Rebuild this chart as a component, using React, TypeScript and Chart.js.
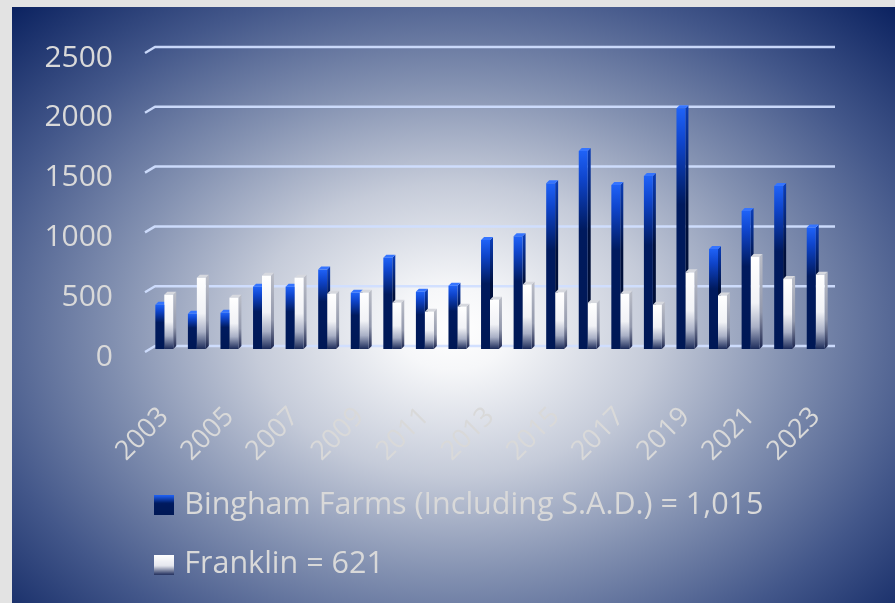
import React, { useEffect, useRef } from 'react';
import { Chart, registerables } from 'chart.js';

Chart.register(...registerables);

// ---- data ----
const years = [
  '2003', '2004', '2005', '2006', '2007', '2008', '2009', '2010', '2011', '2012', '2013',
  '2014', '2015', '2016', '2017', '2018', '2019', '2020', '2021', '2022', '2023',
];
const binghamFarms = [370, 294, 303, 521, 521, 664, 470, 764, 479, 529, 911, 943, 1385, 1656, 1371, 1446, 2012, 837, 1153, 1362, 1015];
const franklin = [454, 596, 429, 613, 596, 462, 470, 387, 311, 353, 412, 538, 473, 384, 462, 370, 641, 448, 770, 585, 621];
const seriesLabels = ['Bingham Farms (Including S.A.D.) = 1,015', 'Franklin = 621'];
const yTicks = [0, 500, 1000, 1500, 2000, 2500];

// ---- styles ----
const TEXT = '#d9d9d9';
const FONT = '"Open Sans", "Noto Sans", sans-serif';
const GRID = 'rgba(208,222,255,0.95)';
const DEPTH = 3;

const blueFront: [number, string][] = [[0, '#1f62f7'], [0.14, '#0f45cc'], [0.4, '#001a5e'], [1, '#001855']];
const whiteFront: [number, string][] = [[0, '#ffffff'], [0.5, '#f1f2f6'], [0.76, '#a9b0c6'], [1, '#1c2b5a']];
const blueSide: [number, string][] = [[0, '#0b3cb4'], [0.4, '#00103c'], [1, '#000e34']];
const whiteSide: [number, string][] = [[0, '#b9bcc6'], [0.6, '#9298ac'], [1, '#18224c']];
const capColors = ['#3574ff', '#d6d8de'];

function frontFill(stops: [number, string][]) {
  return (c: any) => {
    const chart = c.chart;
    if (c.type !== 'data' || !chart.chartArea) return stops[stops.length - 1][1];
    const ys = chart.scales.y;
    const top = ys.getPixelForValue(c.raw);
    const base = ys.getPixelForValue(0);
    const g = chart.ctx.createLinearGradient(0, top, 0, base + 0.01);
    stops.forEach(([o, col]) => g.addColorStop(o, col));
    return g;
  };
}

function makeBox(stops: [number, string][]) {
  const cv = document.createElement('canvas');
  cv.width = 20;
  cv.height = 20;
  const cx = cv.getContext('2d')!;
  const g = cx.createLinearGradient(0, 0, 0, 20);
  stops.forEach(([o, col]) => g.addColorStop(o, col));
  cx.fillStyle = g;
  cx.fillRect(0, 0, 20, 20);
  return cv;
}

const depthPlugin = {
  id: 'depth3d',
  afterLayout(chart: any) {
    // place the legend rows at the left, as in the original
    if (chart.legend) chart.legend.left = 117;
  },
  beforeDatasetsDraw(chart: any) {
    const ctx = chart.ctx;
    const area = chart.chartArea;
    const ys = chart.scales.y;
    // back-wall gridlines with a short slanted floor segment
    ctx.save();
    ctx.strokeStyle = GRID;
    ctx.lineWidth = 2.5;
    ctx.lineJoin = 'round';
    ys.ticks.forEach((t: any) => {
      const py = ys.getPixelForValue(t.value) - 3;
      ctx.beginPath();
      ctx.moveTo(area.left - 3, py + 6);
      ctx.lineTo(area.left + 7, py);
      ctx.lineTo(area.right + 3, py);
      ctx.stroke();
    });
    // side faces and caps of the columns
    const sides = [blueSide, whiteSide];
    chart.data.datasets.forEach((_ds: any, di: number) => {
      const meta = chart.getDatasetMeta(di);
      meta.data.forEach((bar: any) => {
        const { x, y, base, width } = bar.getProps(['x', 'y', 'base', 'width'], true);
        const l = x - width / 2;
        const r = x + width / 2;
        const sg = ctx.createLinearGradient(0, y, 0, base + 0.01);
        sides[di].forEach(([o, col]) => sg.addColorStop(o, col));
        ctx.fillStyle = sg;
        ctx.beginPath();
        ctx.moveTo(r, y);
        ctx.lineTo(r + DEPTH, y - DEPTH);
        ctx.lineTo(r + DEPTH, base - DEPTH);
        ctx.lineTo(r, base);
        ctx.closePath();
        ctx.fill();
        ctx.fillStyle = capColors[di];
        ctx.beginPath();
        ctx.moveTo(l, y);
        ctx.lineTo(l + DEPTH, y - DEPTH);
        ctx.lineTo(r + DEPTH, y - DEPTH);
        ctx.lineTo(r, y);
        ctx.closePath();
        ctx.fill();
      });
    });
    ctx.restore();
  },
};

export default function App() {
  const ref = useRef<HTMLCanvasElement>(null);

  useEffect(() => {
    if (!ref.current) return;
    const boxes = [makeBox([[0, '#1f62f7'], [0.4, '#001a5e'], [1, '#001855']]), makeBox([[0, '#ffffff'], [0.55, '#e6e8ef'], [1, '#22305e']])];
    const chart = new Chart(ref.current, {
      type: 'bar',
      data: {
        labels: years,
        datasets: [
          {
            label: seriesLabels[0],
            data: binghamFarms,
            backgroundColor: frontFill(blueFront),
            borderWidth: 0,
            categoryPercentage: 0.55,
            barPercentage: 1,
          },
          {
            label: seriesLabels[1],
            data: franklin,
            backgroundColor: frontFill(whiteFront),
            borderWidth: 0,
            categoryPercentage: 0.55,
            barPercentage: 1,
          },
        ],
      },
      options: {
        responsive: false,
        animation: false,
        layout: { padding: { top: 43, right: 63, bottom: 13, left: 0 } },
        scales: {
          x: {
            grid: { display: false },
            border: { display: false },
            ticks: {
              autoSkip: false,
              minRotation: 45,
              maxRotation: 45,
              padding: 44,
              color: TEXT,
              font: { family: FONT, size: 27 },
              callback: (_v: any, i: number) => (i % 2 === 0 ? years[i] : ''),
            },
            afterFit: (s: any) => {
              s.height = 112;
            },
          },
          y: {
            min: 0,
            max: 2500,
            grid: { display: false, drawTicks: false },
            border: { display: false },
            afterBuildTicks: (s: any) => {
              s.ticks = yTicks.map((v) => ({ value: v }));
            },
            ticks: {
              padding: 35,
              labelOffset: 8,
              color: TEXT,
              font: { family: FONT, size: 30 },
              callback: (v: any) => String(v),
            },
            afterFit: (s: any) => {
              s.width = 136;
              s.paddingTop = 0;
              s.paddingBottom = 0;
            },
          },
        },
        plugins: {
          tooltip: { enabled: false },
          legend: {
            position: 'bottom',
            align: 'start',
            labels: {
              usePointStyle: true,
              boxWidth: 11,
              padding: 29,
              color: TEXT,
              font: { family: FONT, size: 30.5 },
              generateLabels: (ch: any) =>
                ch.data.datasets.map((ds: any, i: number) => ({
                  text: ds.label,
                  fillStyle: i === 0 ? '#001a5e' : '#ffffff',
                  strokeStyle: 'rgba(0,0,0,0)',
                  lineWidth: 0,
                  pointStyle: boxes[i],
                  hidden: false,
                  datasetIndex: i,
                  fontColor: TEXT,
                })),
            },
          },
        },
      },
      plugins: [depthPlugin],
    } as any);
    return () => chart.destroy();
  }, []);

  return (
    <div style={{ position: 'fixed', left: 0, top: 0, width: 895, height: 603, background: '#e3e3e3', overflow: 'hidden' }}>
      <div
        style={{
          position: 'absolute',
          left: 12,
          top: 7,
          width: 883,
          height: 596,
          background:
            'radial-gradient(ellipse farthest-corner at 50% 54%, #ffffff 0%, #f6f7f9 9%, #c5cbd9 32%, #8391b1 54%, #43578a 77%, #0b2260 100%)',
        }}
      >
        <canvas ref={ref} width={883} height={596} style={{ display: 'block', width: 883, height: 596 }} />
      </div>
    </div>
  );
}
